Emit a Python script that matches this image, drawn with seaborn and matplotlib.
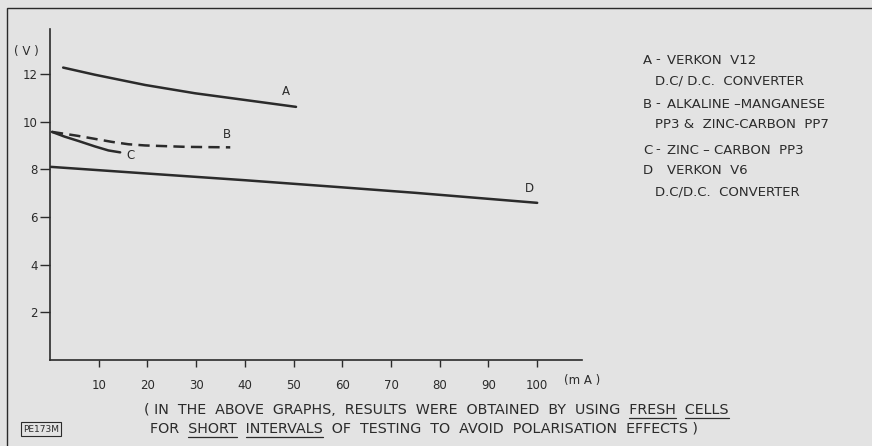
import pandas as pd
import numpy as np
import seaborn as sns
import matplotlib.pyplot as plt
from matplotlib.patches import Rectangle

sns.set_style("ticks")
plt.rcParams["font.family"] = ["DejaVu Sans"]

INK = "#2b2b2b"
PAPER = "#e3e3e3"

# curve A - Verkon V12 DC/DC converter
a_ma = [2.7, 9.2, 19.5, 29.8, 40.0, 50.5]
a_v = [12.28, 11.98, 11.55, 11.2, 10.92, 10.63]
# curve B - alkaline-manganese PP3 & zinc-carbon PP7
b_ma = [0.4, 5.8, 12.7, 16.1, 19.5, 28.0, 37.0]
b_v = [9.58, 9.41, 9.16, 9.06, 9.01, 8.95, 8.93]
# curve C - zinc-carbon PP3
c_ma = [0.4, 3.0, 5.8, 9.2, 12.0, 14.4]
c_v = [9.58, 9.38, 9.2, 8.97, 8.80, 8.72]
# curve D - Verkon V6 DC/DC converter
d_ma = [0.2, 20, 40, 60, 75, 100]
d_v = [8.11, 7.83, 7.55, 7.25, 7.02, 6.6]

x_ticks = [10, 20, 30, 40, 50, 60, 70, 80, 90, 100]
y_ticks = [2, 4, 6, 8, 10, 12]

legend_lines = [
    ("A", "-", "VERKON  V12", "D.C/ D.C.  CONVERTER"),
    ("B", "-", "ALKALINE \u2013MANGANESE", "PP3 &  ZINC-CARBON  PP7"),
    ("C", "-", "ZINC \u2013 CARBON  PP3", None),
    ("D", "", "VERKON  V6", "D.C/D.C.  CONVERTER"),
]


def build_frame():
  parts = []
  for name, xs, ys in [("A", a_ma, a_v), ("B", b_ma, b_v), ("C", c_ma, c_v), ("D", d_ma, d_v)]:
    parts.append(pd.DataFrame({"mA": xs, "V": ys, "curve": name}))
  return pd.concat(parts, ignore_index=True)


def underline(fig, txt, line, word, renderer):
  # measure where a word sits inside a left aligned text and draw a rule under it
  bb = txt.get_window_extent(renderer)
  start = line.index(word)
  probe = fig.text(0, 0, line[:start], fontsize=txt.get_fontsize(), family=txt.get_fontfamily())
  w0 = probe.get_window_extent(renderer).width
  probe.set_text(line[:start + len(word)])
  w1 = probe.get_window_extent(renderer).width
  probe.remove()
  W, H = fig.bbox.width, fig.bbox.height
  y = (bb.y0 - 0.5) / H
  fig.add_artist(plt.Line2D([(bb.x0 + w0) / W, (bb.x0 + w1) / W], [y, y], color=INK, lw=0.9))


def main():
  data = build_frame()

  fig = plt.figure(figsize=(8.72, 4.46), dpi=100, facecolor=PAPER)
  ax = fig.add_axes([50 / 872, 86 / 446, 532 / 872, 331 / 446])
  ax.set_facecolor("none")

  sns.lineplot(data=data, x="mA", y="V", hue="curve", style="curve",
               palette={k: INK for k in "ABCD"},
               dashes={"A": "", "B": (4.5, 2.5), "C": "", "D": ""},
               linewidth=1.8, legend=False, ax=ax)

  ax.set_xlim(0, 109.2)
  ax.set_ylim(0, 13.9)
  ax.set_xticks(x_ticks)
  ax.set_yticks(y_ticks)
  ax.set_xlabel("")
  ax.set_ylabel("")
  sns.despine(ax=ax)
  for s in ["left", "bottom"]:
    ax.spines[s].set_color(INK)
    ax.spines[s].set_linewidth(1.2)
  ax.tick_params(colors=INK, labelsize=8.5, width=1.0)
  ax.tick_params(axis="x", length=5, pad=9)
  ax.tick_params(axis="y", length=7, pad=2)

  ax.text(-4.8, 12.95, "( V )", fontsize=8.5, color=INK, ha="center", va="center")
  ax.text(105.5, -0.84, "(m A )", fontsize=8.5, color=INK, ha="left", va="center")

  ax.text(48.5, 11.0, "A", fontsize=8.5, color=INK, ha="center", va="bottom")
  ax.text(36.3, 9.2, "B", fontsize=8.5, color=INK, ha="center", va="bottom")
  ax.text(16.5, 8.6, "C", fontsize=8.5, color=INK, ha="center", va="center")
  ax.text(98.5, 6.95, "D", fontsize=8.5, color=INK, ha="center", va="bottom")

  # key on the right
  ys = [60, 104, 150, 171]
  for (tag, dash, first, second), y in zip(legend_lines, ys):
    fig.text(643 / 872, 1 - y / 446, tag, fontsize=9.5, color=INK, va="center")
    fig.text(655 / 872, 1 - y / 446, dash, fontsize=9.5, color=INK, va="center")
    fig.text(667 / 872, 1 - y / 446, first, fontsize=9.5, color=INK, va="center")
    if second:
      fig.text(655 / 872, 1 - (y + 21) / 446, second, fontsize=9.5, color=INK, va="center")

  # footnote
  note1 = "( IN  THE  ABOVE  GRAPHS,  RESULTS  WERE  OBTAINED  BY  USING  FRESH  CELLS"
  note2 = "FOR  SHORT  INTERVALS  OF  TESTING  TO  AVOID  POLARISATION  EFFECTS )"
  t1 = fig.text(144 / 872, 1 - 410 / 446, note1, fontsize=10.3, color=INK, va="center")
  t2 = fig.text(150 / 872, 1 - 429 / 446, note2, fontsize=10.3, color=INK, va="center")
  renderer = fig.canvas.get_renderer()
  underline(fig, t1, note1, "FRESH", renderer)
  underline(fig, t1, note1, "CELLS", renderer)
  underline(fig, t2, note2, "SHORT", renderer)
  underline(fig, t2, note2, "INTERVALS", renderer)

  fig.text(41 / 872, 1 - 429 / 446, "PE173M", fontsize=6.5, color=INK, ha="center", va="center",
           bbox=dict(boxstyle="square,pad=0.25", fc="none", ec=INK, lw=0.8))

  # page frame
  fig.add_artist(Rectangle((7 / 872, -0.05), 1.2, 1 - 8 / 446 + 0.05, transform=fig.transFigure,
                           fill=False, ec=INK, lw=1.0))

  fig.savefig("out.png", dpi=100, facecolor=PAPER)


if __name__ == "__main__":
  main()
